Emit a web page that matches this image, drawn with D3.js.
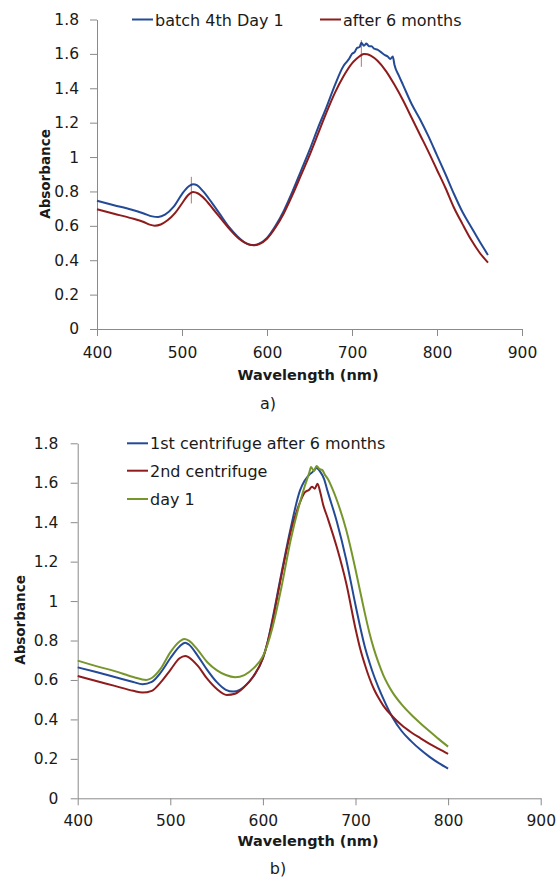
<!DOCTYPE html>
<html>
<head>
<meta charset="utf-8">
<script src="https://cdn.jsdelivr.net/npm/d3@7/dist/d3.min.js"></script>
<style>
  body { margin: 0; background: #fff; }
  svg { display: block; }
  text { font-family: "DejaVu Sans", Verdana, sans-serif; fill: #1a1a1a; }
</style>
</head>
<body>
<svg id="chart" width="559" height="877"></svg>
<script>
// shared ticks
var xTicks = [400, 500, 600, 700, 800, 900];
var yTicks = [0, 0.2, 0.4, 0.6, 0.8, 1, 1.2, 1.4, 1.6, 1.8];

// panel a) [wavelength nm, absorbance]
var batchDay1 = [
  [400,0.746],[420,0.72],[440,0.695],[455,0.672],[465,0.655],[472,0.652],[480,0.665],
  [490,0.71],[500,0.785],[508,0.83],[513,0.842],[518,0.835],[525,0.80],[535,0.735],
  [545,0.665],[555,0.595],[565,0.54],[575,0.5],[583,0.488],[590,0.495],[600,0.53],
  [610,0.60],[620,0.69],[630,0.80],[640,0.92],[650,1.04],[660,1.17],[670,1.29],
  [680,1.42],[690,1.53],[694,1.555],[697,1.575],[700,1.60],[703,1.61],[706,1.635],
  [709,1.64],[711,1.665],[714,1.648],[717,1.66],[720,1.645],[723,1.645],[726,1.63],
  [730,1.625],[734,1.61],[738,1.595],[742,1.585],[745,1.57],[748,1.585],[750,1.535],
  [755,1.475],[760,1.42],[770,1.31],[780,1.22],[790,1.12],[800,1.01],[810,0.90],
  [820,0.785],[830,0.68],[840,0.595],[850,0.51],[860,0.43]
];
var after6Months = [
  [400,0.696],[420,0.67],[440,0.645],[455,0.622],[462,0.607],[468,0.601],[475,0.608],
  [483,0.632],[492,0.675],[500,0.73],[507,0.778],[513,0.797],[519,0.788],[527,0.755],
  [537,0.695],[547,0.635],[557,0.575],[567,0.525],[577,0.495],[584,0.487],[591,0.494],
  [600,0.525],[610,0.59],[620,0.675],[630,0.78],[640,0.895],[650,1.01],[660,1.135],
  [670,1.26],[680,1.375],[690,1.47],[700,1.545],[705,1.57],[710,1.59],[714,1.60],
  [718,1.598],[722,1.59],[730,1.56],[740,1.50],[750,1.42],[760,1.33],[770,1.23],
  [780,1.13],[790,1.03],[800,0.925],[810,0.82],[820,0.705],[830,0.61],[840,0.52],
  [850,0.445],[860,0.386]
];
// vertical error marks on the "after 6 months" curve: [wavelength, low, high]
var after6Errors = [[511,0.73,0.885],[711,1.525,1.68]];

// panel b)
var firstCentrifuge = [
  [400,0.664],[420,0.64],[440,0.615],[460,0.59],[470,0.578],[480,0.59],[490,0.64],
  [500,0.71],[510,0.77],[516,0.789],[520,0.78],[530,0.72],[540,0.65],[550,0.59],
  [560,0.55],[568,0.541],[575,0.55],[585,0.59],[590,0.62],[600,0.71],[605,0.79],
  [610,0.90],[620,1.14],[630,1.37],[640,1.56],[645,1.61],[650,1.64],[655,1.66],
  [658,1.675],[662,1.655],[666,1.62],[670,1.555],[680,1.40],[690,1.21],[700,0.98],
  [705,0.87],[710,0.77],[715,0.69],[720,0.62],[725,0.56],[730,0.505],[740,0.41],
  [750,0.34],[760,0.29],[770,0.247],[780,0.21],[790,0.178],[800,0.15]
];
var secondCentrifuge = [
  [400,0.62],[420,0.595],[440,0.57],[460,0.545],[470,0.536],[480,0.545],[490,0.59],
  [500,0.65],[510,0.71],[516,0.722],[520,0.715],[530,0.67],[540,0.605],[550,0.555],
  [561,0.524],[570,0.53],[580,0.565],[590,0.62],[600,0.71],[605,0.79],[610,0.89],
  [620,1.13],[630,1.35],[640,1.50],[645,1.55],[650,1.565],[653,1.58],[656,1.57],
  [659,1.595],[662,1.55],[665,1.49],[670,1.42],[680,1.27],[690,1.09],[700,0.86],
  [705,0.76],[710,0.68],[715,0.61],[720,0.553],[725,0.508],[730,0.47],[740,0.415],
  [750,0.37],[760,0.335],[770,0.305],[780,0.276],[790,0.25],[800,0.225]
];
var day1 = [
  [400,0.698],[420,0.67],[440,0.645],[460,0.615],[474,0.60],[480,0.61],[490,0.66],
  [500,0.74],[510,0.795],[515,0.808],[520,0.80],[530,0.75],[540,0.69],[550,0.65],
  [560,0.625],[570,0.614],[580,0.625],[590,0.66],[600,0.72],[605,0.78],[610,0.86],
  [620,1.07],[630,1.31],[640,1.50],[645,1.58],[650,1.65],[652,1.68],[655,1.66],
  [658,1.685],[661,1.67],[664,1.665],[667,1.64],[670,1.62],[675,1.57],[680,1.51],
  [690,1.36],[700,1.16],[705,1.05],[710,0.94],[715,0.84],[720,0.755],[725,0.685],
  [730,0.625],[735,0.577],[740,0.537],[750,0.475],[760,0.425],[770,0.381],[780,0.34],
  [790,0.30],[800,0.262]
];

var BLUE = "#244a96", RED = "#8e1c1c", GREEN = "#76962c", AXIS = "#8a8a8a";

var svg = d3.select("#chart");
svg.append("rect").attr("width", 559).attr("height", 877).attr("fill", "#fff");

function drawPanel(p) {
  var x = d3.scaleLinear().domain([400, 900]).range([p.left, p.right]);
  var y = d3.scaleLinear().domain([0, 1.8]).range([p.bottom, p.top]);
  var g = svg.append("g");

  var yAxis = g.append("g")
    .attr("transform", "translate(" + p.left + ",0)")
    .call(d3.axisLeft(y).tickValues(yTicks).tickSize(7).tickSizeOuter(0)
      .tickPadding(p.yPad).tickFormat(function (d) { return String(+d.toFixed(1)); }));
  var xAxis = g.append("g")
    .attr("transform", "translate(0," + p.bottom + ")")
    .call(d3.axisBottom(x).tickValues(xTicks).tickSize(7).tickSizeOuter(0).tickPadding(p.xPad));

  [yAxis, xAxis].forEach(function (a) {
    a.selectAll("path, line").attr("stroke", AXIS).attr("stroke-width", 1);
    a.selectAll("text").attr("font-size", "15.5px").attr("fill", "#1a1a1a")
      .attr("font-family", "DejaVu Sans, Verdana, sans-serif");
  });

  var line = d3.line()
    .x(function (d) { return x(d[0]); })
    .y(function (d) { return y(d[1]); })
    .curve(d3.curveMonotoneX);

  p.series.forEach(function (s) {
    g.append("path")
      .datum(s.data)
      .attr("d", line)
      .attr("fill", "none")
      .attr("stroke", s.color)
      .attr("stroke-width", 2)
      .attr("stroke-linejoin", "round");
  });

  (p.errors || []).forEach(function (e) {
    g.append("line")
      .attr("x1", x(e[0])).attr("x2", x(e[0]))
      .attr("y1", y(e[1])).attr("y2", y(e[2]))
      .attr("stroke", RED).attr("stroke-width", 1).attr("opacity", 0.6);
  });

  // legend
  p.series.forEach(function (s) {
    g.append("line")
      .attr("x1", s.lx).attr("x2", s.lx + 21)
      .attr("y1", s.ly).attr("y2", s.ly)
      .attr("stroke", s.color).attr("stroke-width", 2);
    g.append("text")
      .attr("x", s.lx + 23).attr("y", s.ly + 6)
      .attr("font-size", "16px")
      .text(s.name);
  });

  g.append("text")
    .attr("x", 308).attr("y", p.xTitleY)
    .attr("text-anchor", "middle")
    .attr("font-size", "14.5px").attr("font-weight", "bold")
    .text("Wavelength (nm)");

  g.append("text")
    .attr("transform", "translate(" + p.yTitleX + "," + p.yTitleY + ") rotate(-90)")
    .attr("text-anchor", "middle")
    .attr("font-size", "13.5px").attr("font-weight", "bold")
    .text("Absorbance");

  g.append("text")
    .attr("x", p.capX).attr("y", p.capY)
    .attr("text-anchor", "middle")
    .attr("font-size", "16px")
    .text(p.caption);
}

drawPanel({
  left: 97, right: 522, top: 19.5, bottom: 329, yPad: 11, xPad: 11,
  xTitleY: 380, yTitleX: 50, yTitleY: 174, capX: 268, capY: 409, caption: "a)",
  series: [
    { name: "batch 4th Day 1", data: batchDay1, color: BLUE, lx: 132, ly: 19.5 },
    { name: "after 6 months", data: after6Months, color: RED, lx: 320, ly: 19.5 }
  ],
  errors: after6Errors
});

drawPanel({
  left: 77.7, right: 540.7, top: 443.3, bottom: 798.3, yPad: 12.4, xPad: 10,
  xTitleY: 846, yTitleX: 25, yTitleY: 620, capX: 278, capY: 874, caption: "b)",
  series: [
    { name: "1st centrifuge after 6 months", data: firstCentrifuge, color: BLUE, lx: 127, ly: 443.3 },
    { name: "2nd centrifuge", data: secondCentrifuge, color: RED, lx: 127, ly: 470.7 },
    { name: "day 1", data: day1, color: GREEN, lx: 127, ly: 499 }
  ]
});
</script>
</body>
</html>
